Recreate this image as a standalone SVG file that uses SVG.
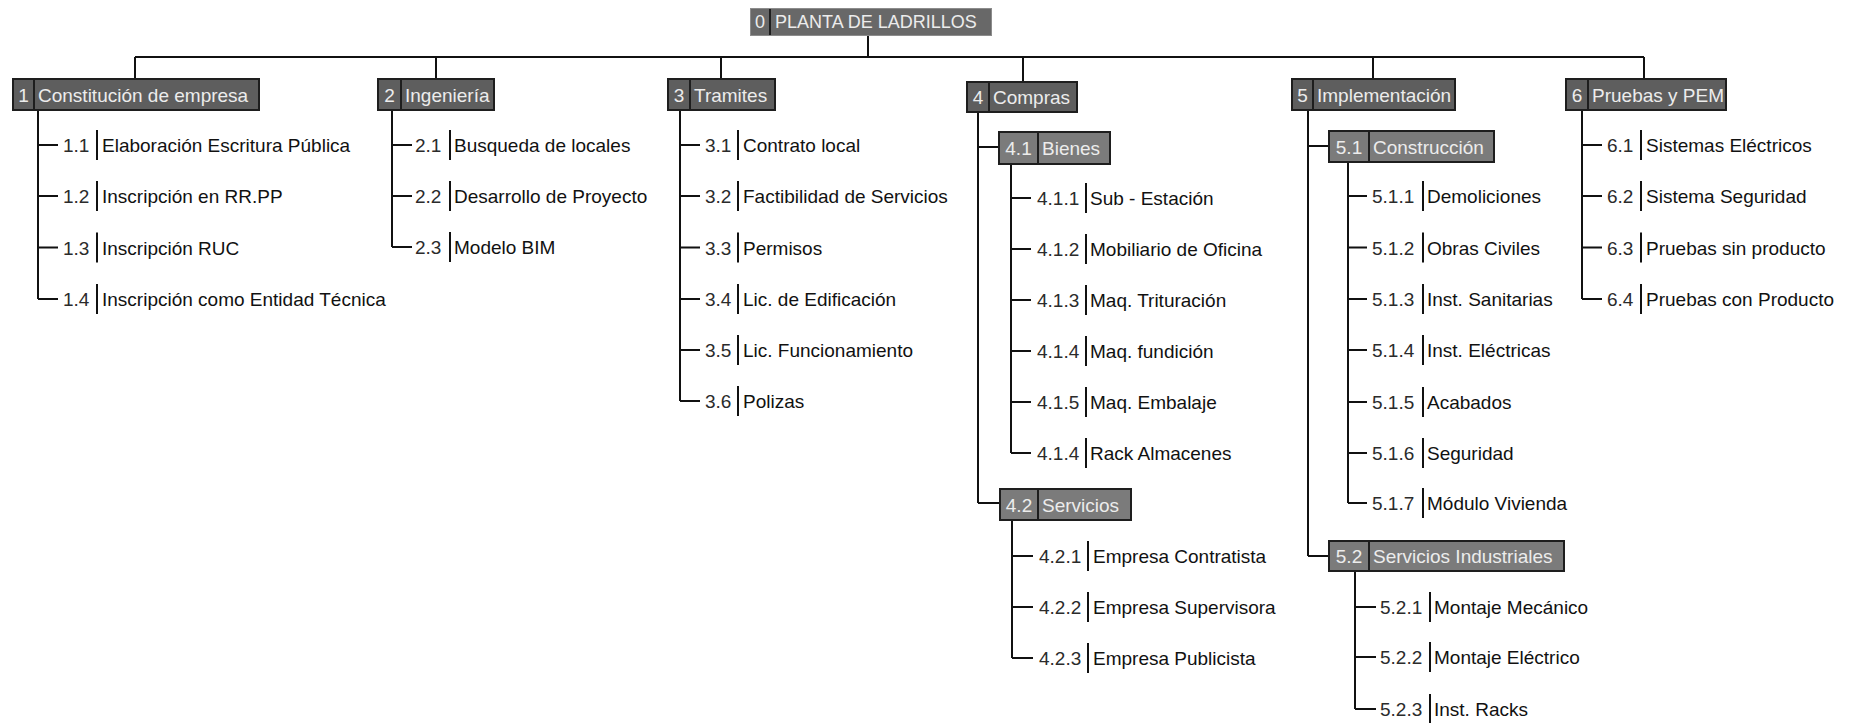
<svg xmlns="http://www.w3.org/2000/svg" width="1854" height="723" viewBox="0 0 1854 723">
  <style>
    text { font-family: "Liberation Sans", Arial, sans-serif; font-size: 19px; }
    .ln { stroke: #111; stroke-width: 2; fill: none; }
    .b0 { fill: #686868; stroke: #8c8c8c; stroke-width: 1; }
    .b1 { fill: #5e5e5e; stroke: #1e1e1e; stroke-width: 2; }
    .b2 { fill: #7b7b7b; stroke: #1e1e1e; stroke-width: 2; }
    .dv { stroke: #1e1e1e; stroke-width: 2; }
    .bt { fill: #ececec; }
    .bn { fill: #ececec; text-anchor: middle; }
    .num { fill: #2b2b2b; }
    .txt { fill: #111; }
    .bar { stroke: #111; stroke-width: 2; }
  </style>

  <rect width="1854" height="723" fill="#fff"/>

  <!-- tree lines -->
  <g id="connectors" class="ln">
    <!-- root to level 1 -->
    <path d="M868 35 V57 M135 57 H1644 M135 57 V79 M436 57 V79 M721 57 V79 M1023 57 V82 M1373 57 V79 M1644 57 V79"/>
    <!-- 1 -->
    <path d="M38 110 V299 M38 145 H58 M38 196 H58 M38 247.5 H58 M38 299 H58"/>
    <!-- 2 -->
    <path d="M392 110 V247 M392 145 H412 M392 196 H412 M392 247 H412"/>
    <!-- 3 -->
    <path d="M680 110 V401 M680 145 H700 M680 196 H700 M680 247.5 H700 M680 299 H700 M680 350 H700 M680 401 H700"/>
    <!-- 4 -->
    <path d="M978 112 V503 M978 147 H999 M978 503 H1000"/>
    <path d="M1011 164 V453 M1011 198 H1031 M1011 249 H1031 M1011 300 H1031 M1011 351 H1031 M1011 402 H1031 M1011 453 H1031"/>
    <path d="M1012 520 V658 M1012 556 H1033 M1012 607 H1033 M1012 658 H1033"/>
    <!-- 5 -->
    <path d="M1308 110 V556 M1308 146 H1329 M1308 556 H1329"/>
    <path d="M1348 162 V503 M1348 196 H1367 M1348 247.5 H1367 M1348 299 H1367 M1348 350 H1367 M1348 402 H1367 M1348 453 H1367 M1348 503 H1367"/>
    <path d="M1355 571 V709 M1355 607 H1376 M1355 657 H1376 M1355 709 H1376"/>
    <!-- 6 -->
    <path d="M1582 110 V299 M1582 145 H1602 M1582 196 H1602 M1582 247.5 H1602 M1582 299 H1602"/>
  </g>

  <!-- root -->
  <g id="n0">
    <rect class="b0" x="750.5" y="8.5" width="241" height="27"/>
    <line class="dv" x1="770" y1="9" x2="770" y2="35"/>
    <text class="bn" x="760" y="28" style="font-size:18px">0</text>
    <text class="bt" x="775" y="28" style="font-size:18px">PLANTA DE LADRILLOS</text>
  </g>

  <!-- level 1 -->
  <g id="n1">
    <rect class="b1" x="13" y="79" width="246" height="31"/>
    <line class="dv" x1="34" y1="79" x2="34" y2="110"/>
    <text class="bn" x="23.5" y="101.5">1</text>
    <text class="bt" x="38" y="101.5">Constitución de empresa</text>
  </g>
  <g id="n2">
    <rect class="b1" x="378" y="79" width="116" height="31"/>
    <line class="dv" x1="401" y1="79" x2="401" y2="110"/>
    <text class="bn" x="389.5" y="101.5">2</text>
    <text class="bt" x="405" y="101.5">Ingeniería</text>
  </g>
  <g id="n3">
    <rect class="b1" x="668" y="79" width="107" height="31"/>
    <line class="dv" x1="690" y1="79" x2="690" y2="110"/>
    <text class="bn" x="679" y="101.5">3</text>
    <text class="bt" x="694" y="101.5">Tramites</text>
  </g>
  <g id="n4">
    <rect class="b1" x="967" y="82" width="110" height="30"/>
    <line class="dv" x1="989" y1="82" x2="989" y2="112"/>
    <text class="bn" x="978" y="104">4</text>
    <text class="bt" x="993" y="104">Compras</text>
  </g>
  <g id="n5">
    <rect class="b1" x="1292" y="79" width="163" height="31"/>
    <line class="dv" x1="1313" y1="79" x2="1313" y2="110"/>
    <text class="bn" x="1302.5" y="101.5">5</text>
    <text class="bt" x="1317" y="101.5">Implementación</text>
  </g>
  <g id="n6">
    <rect class="b1" x="1566" y="79" width="160" height="31"/>
    <line class="dv" x1="1588" y1="79" x2="1588" y2="110"/>
    <text class="bn" x="1577" y="101.5">6</text>
    <text class="bt" x="1592" y="101.5">Pruebas y PEM</text>
  </g>

  <!-- level 2 -->
  <g id="n4_1">
    <rect class="b2" x="999" y="132" width="111" height="32"/>
    <line class="dv" x1="1038" y1="132" x2="1038" y2="164"/>
    <text class="bn" x="1018.5" y="155">4.1</text>
    <text class="bt" x="1042" y="155">Bienes</text>
  </g>
  <g id="n4_2">
    <rect class="b2" x="1000" y="489" width="131" height="31"/>
    <line class="dv" x1="1038" y1="489" x2="1038" y2="520"/>
    <text class="bn" x="1019" y="511.5">4.2</text>
    <text class="bt" x="1042" y="511.5">Servicios</text>
  </g>
  <g id="n5_1">
    <rect class="b2" x="1329" y="131" width="165" height="31"/>
    <line class="dv" x1="1369" y1="131" x2="1369" y2="162"/>
    <text class="bn" x="1349" y="153.5">5.1</text>
    <text class="bt" x="1373" y="153.5">Construcción</text>
  </g>
  <g id="n5_2">
    <rect class="b2" x="1329" y="541" width="235" height="30"/>
    <line class="dv" x1="1369" y1="541" x2="1369" y2="571"/>
    <text class="bn" x="1349" y="563">5.2</text>
    <text class="bt" x="1373" y="563">Servicios Industriales</text>
  </g>

  <!-- leaves of 1 -->
  <g id="n1_1"><text class="num" x="63" y="152">1.1</text><line class="bar" x1="97" y1="130" x2="97" y2="160"/><text class="txt" x="102" y="152">Elaboración Escritura Pública</text></g>
  <g id="n1_2"><text class="num" x="63" y="203">1.2</text><line class="bar" x1="97" y1="181" x2="97" y2="211"/><text class="txt" x="102" y="203">Inscripción en RR.PP</text></g>
  <g id="n1_3"><text class="num" x="63" y="254.5">1.3</text><line class="bar" x1="97" y1="232.5" x2="97" y2="262.5"/><text class="txt" x="102" y="254.5">Inscripción RUC</text></g>
  <g id="n1_4"><text class="num" x="63" y="306">1.4</text><line class="bar" x1="97" y1="284" x2="97" y2="314"/><text class="txt" x="102" y="306">Inscripción como Entidad Técnica</text></g>

  <!-- leaves of 2 -->
  <g id="n2_1"><text class="num" x="415" y="152">2.1</text><line class="bar" x1="450" y1="130" x2="450" y2="160"/><text class="txt" x="454" y="152">Busqueda de locales</text></g>
  <g id="n2_2"><text class="num" x="415" y="203">2.2</text><line class="bar" x1="450" y1="181" x2="450" y2="211"/><text class="txt" x="454" y="203">Desarrollo de Proyecto</text></g>
  <g id="n2_3"><text class="num" x="415" y="254">2.3</text><line class="bar" x1="450" y1="232" x2="450" y2="262"/><text class="txt" x="454" y="254">Modelo BIM</text></g>

  <!-- leaves of 3 -->
  <g id="n3_1"><text class="num" x="705" y="152">3.1</text><line class="bar" x1="738" y1="130" x2="738" y2="160"/><text class="txt" x="743" y="152">Contrato local</text></g>
  <g id="n3_2"><text class="num" x="705" y="203">3.2</text><line class="bar" x1="738" y1="181" x2="738" y2="211"/><text class="txt" x="743" y="203">Factibilidad de Servicios</text></g>
  <g id="n3_3"><text class="num" x="705" y="254.5">3.3</text><line class="bar" x1="738" y1="232.5" x2="738" y2="262.5"/><text class="txt" x="743" y="254.5">Permisos</text></g>
  <g id="n3_4"><text class="num" x="705" y="306">3.4</text><line class="bar" x1="738" y1="284" x2="738" y2="314"/><text class="txt" x="743" y="306">Lic. de Edificación</text></g>
  <g id="n3_5"><text class="num" x="705" y="357">3.5</text><line class="bar" x1="738" y1="335" x2="738" y2="365"/><text class="txt" x="743" y="357">Lic. Funcionamiento</text></g>
  <g id="n3_6"><text class="num" x="705" y="408">3.6</text><line class="bar" x1="738" y1="386" x2="738" y2="416"/><text class="txt" x="743" y="408">Polizas</text></g>

  <!-- leaves of 4.1 -->
  <g id="n4_1_1"><text class="num" x="1037" y="205">4.1.1</text><line class="bar" x1="1086" y1="183" x2="1086" y2="213"/><text class="txt" x="1090" y="205">Sub - Estación</text></g>
  <g id="n4_1_2"><text class="num" x="1037" y="256">4.1.2</text><line class="bar" x1="1086" y1="234" x2="1086" y2="264"/><text class="txt" x="1090" y="256">Mobiliario de Oficina</text></g>
  <g id="n4_1_3"><text class="num" x="1037" y="307">4.1.3</text><line class="bar" x1="1086" y1="285" x2="1086" y2="315"/><text class="txt" x="1090" y="307">Maq. Trituración</text></g>
  <g id="n4_1_4"><text class="num" x="1037" y="358">4.1.4</text><line class="bar" x1="1086" y1="336" x2="1086" y2="366"/><text class="txt" x="1090" y="358">Maq. fundición</text></g>
  <g id="n4_1_5"><text class="num" x="1037" y="409">4.1.5</text><line class="bar" x1="1086" y1="387" x2="1086" y2="417"/><text class="txt" x="1090" y="409">Maq. Embalaje</text></g>
  <g id="n4_1_6"><text class="num" x="1037" y="460">4.1.4</text><line class="bar" x1="1086" y1="438" x2="1086" y2="468"/><text class="txt" x="1090" y="460">Rack Almacenes</text></g>

  <!-- leaves of 4.2 -->
  <g id="n4_2_1"><text class="num" x="1039" y="563">4.2.1</text><line class="bar" x1="1088" y1="541" x2="1088" y2="571"/><text class="txt" x="1093" y="563">Empresa Contratista</text></g>
  <g id="n4_2_2"><text class="num" x="1039" y="614">4.2.2</text><line class="bar" x1="1088" y1="592" x2="1088" y2="622"/><text class="txt" x="1093" y="614">Empresa Supervisora</text></g>
  <g id="n4_2_3"><text class="num" x="1039" y="665">4.2.3</text><line class="bar" x1="1088" y1="643" x2="1088" y2="673"/><text class="txt" x="1093" y="665">Empresa Publicista</text></g>

  <!-- leaves of 5.1 -->
  <g id="n5_1_1"><text class="num" x="1372" y="203">5.1.1</text><line class="bar" x1="1423" y1="181" x2="1423" y2="211"/><text class="txt" x="1427" y="203">Demoliciones</text></g>
  <g id="n5_1_2"><text class="num" x="1372" y="254.5">5.1.2</text><line class="bar" x1="1423" y1="232.5" x2="1423" y2="262.5"/><text class="txt" x="1427" y="254.5">Obras Civiles</text></g>
  <g id="n5_1_3"><text class="num" x="1372" y="306">5.1.3</text><line class="bar" x1="1423" y1="284" x2="1423" y2="314"/><text class="txt" x="1427" y="306">Inst. Sanitarias</text></g>
  <g id="n5_1_4"><text class="num" x="1372" y="357">5.1.4</text><line class="bar" x1="1423" y1="335" x2="1423" y2="365"/><text class="txt" x="1427" y="357">Inst. Eléctricas</text></g>
  <g id="n5_1_5"><text class="num" x="1372" y="409">5.1.5</text><line class="bar" x1="1423" y1="387" x2="1423" y2="417"/><text class="txt" x="1427" y="409">Acabados</text></g>
  <g id="n5_1_6"><text class="num" x="1372" y="460">5.1.6</text><line class="bar" x1="1423" y1="438" x2="1423" y2="468"/><text class="txt" x="1427" y="460">Seguridad</text></g>
  <g id="n5_1_7"><text class="num" x="1372" y="510">5.1.7</text><line class="bar" x1="1423" y1="488" x2="1423" y2="518"/><text class="txt" x="1427" y="510">Módulo Vivienda</text></g>

  <!-- leaves of 5.2 -->
  <g id="n5_2_1"><text class="num" x="1380" y="614">5.2.1</text><line class="bar" x1="1430" y1="592" x2="1430" y2="622"/><text class="txt" x="1434" y="614">Montaje Mecánico</text></g>
  <g id="n5_2_2"><text class="num" x="1380" y="664">5.2.2</text><line class="bar" x1="1430" y1="642" x2="1430" y2="672"/><text class="txt" x="1434" y="664">Montaje Eléctrico</text></g>
  <g id="n5_2_3"><text class="num" x="1380" y="716">5.2.3</text><line class="bar" x1="1430" y1="694" x2="1430" y2="723"/><text class="txt" x="1434" y="716">Inst. Racks</text></g>

  <!-- leaves of 6 -->
  <g id="n6_1"><text class="num" x="1607" y="152">6.1</text><line class="bar" x1="1641" y1="130" x2="1641" y2="160"/><text class="txt" x="1646" y="152">Sistemas Eléctricos</text></g>
  <g id="n6_2"><text class="num" x="1607" y="203">6.2</text><line class="bar" x1="1641" y1="181" x2="1641" y2="211"/><text class="txt" x="1646" y="203">Sistema Seguridad</text></g>
  <g id="n6_3"><text class="num" x="1607" y="254.5">6.3</text><line class="bar" x1="1641" y1="232.5" x2="1641" y2="262.5"/><text class="txt" x="1646" y="254.5">Pruebas sin producto</text></g>
  <g id="n6_4"><text class="num" x="1607" y="306">6.4</text><line class="bar" x1="1641" y1="284" x2="1641" y2="314"/><text class="txt" x="1646" y="306">Pruebas con Producto</text></g>
</svg>
